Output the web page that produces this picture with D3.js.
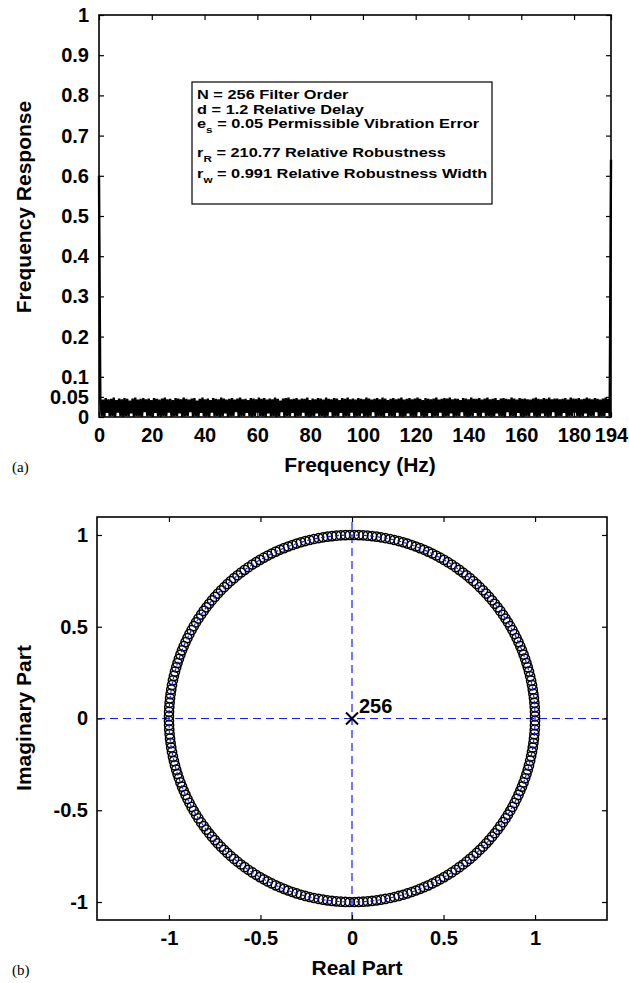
<!DOCTYPE html>
<html><head><meta charset="utf-8">
<script src="https://cdn.jsdelivr.net/npm/d3@7"></script>
<style>
body{margin:0;background:#fff;}
svg text{font-family:"Liberation Sans",Arial,sans-serif;font-weight:bold;}
</style></head>
<body>
<svg id="c" width="629" height="983"></svg>
<script>
// ---------- data: panel (a) ----------
const freqTicks = [0,20,40,60,80,100,120,140,160,180,194];
const respTicks = [0,0.05,0.1,0.2,0.3,0.4,0.5,0.6,0.7,0.8,0.9,1];
const respTickLabels = ["0","0.05","0.1","0.2","0.3","0.4","0.5","0.6","0.7","0.8","0.9","1"];
const edgeStart = [0, 0.6];     // [freq, response] at left edge
const edgeEnd = [194, 0.64];    // [freq, response] at right edge
const ripplePeaks = [
0.046,0.043,0.047,0.044,0.045,0.048,0.042,0.046,0.044,0.047,
0.045,0.041,0.046,0.048,0.043,0.045,0.047,0.044,0.046,0.042,
0.047,0.045,0.043,0.046,0.048,0.044,0.045,0.042,0.047,0.046,
0.044,0.048,0.045,0.043,0.046,0.047,0.041,0.045,0.048,0.044,
0.046,0.042,0.047,0.045,0.044,0.048,0.046,0.043,0.045,0.047,
0.043,0.046,0.048,0.044,0.045,0.042,0.047,0.046,0.044,0.048,
0.045,0.047,0.043,0.046,0.044,0.048,0.045,0.041,0.046,0.047,
0.048,0.044,0.045,0.047,0.043,0.046,0.045,0.048,0.042,0.046,
0.044,0.047,0.046,0.043,0.048,0.045,0.044,0.047,0.046,0.042,
0.047,0.045,0.048,0.044,0.046,0.043,0.047,0.045,0.044,0.048,
0.046,0.043,0.045,0.047,0.044,0.048,0.046,0.042,0.045,0.047,
0.044,0.046,0.048,0.043,0.045,0.047,0.044,0.046,0.048,0.045,
0.042,0.047,0.045,0.044,0.046,0.048,0.043,0.045,0.047,0.046,
0.048,0.044,0.046,0.045,0.042,0.047,0.046,0.044,0.048,0.045,
0.045,0.047,0.043,0.046,0.048,0.044,0.045,0.047,0.042,0.046,
0.047,0.045,0.044,0.048,0.046,0.043,0.047,0.045,0.046,0.044,
0.043,0.046,0.048,0.045,0.044,0.047,0.045,0.048,0.044,0.046,
0.046,0.044,0.045,0.047,0.043,0.048,0.046,0.045,0.047,0.044,
0.045,0.048,0.046,0.044,0.047,0.045,0.043,0.046,0.048,0.045];
const rippleDips = [
0.002,0.001,0.010,0.002,0.003,0.001,0.011,0.002,0.001,0.003,
0.002,0.009,0.001,0.003,0.002,0.001,0.012,0.002,0.003,0.001,
0.010,0.002,0.001,0.003,0.002,0.011,0.001,0.002,0.003,0.009,
0.001,0.002,0.003,0.012,0.001,0.002,0.001,0.010,0.003,0.002,
0.001,0.011,0.002,0.003,0.001,0.002,0.009,0.001,0.002,0.003,
0.012,0.001,0.002,0.003,0.010,0.002,0.001,0.002,0.011,0.003,
0.002,0.001,0.009,0.002,0.003,0.001,0.002,0.012,0.001,0.003,
0.002,0.010,0.001,0.002,0.003,0.011,0.002,0.001,0.003,0.002,
0.009,0.002,0.003,0.001,0.002,0.012,0.001,0.003,0.002,0.010,
0.001,0.003,0.002,0.011,0.001,0.002,0.003,0.009,0.002,0.001,
0.003,0.012,0.001,0.002,0.002,0.001,0.010,0.003,0.002,0.001,
0.011,0.002,0.001,0.003,0.009,0.002,0.001,0.002,0.012,0.003,
0.001,0.002,0.010,0.001,0.003,0.002,0.011,0.001,0.002,0.003,
0.009,0.001,0.002,0.003,0.012,0.002,0.001,0.003,0.002,0.010,
0.002,0.001,0.011,0.002,0.003,0.001,0.002,0.009,0.003,0.002,
0.001,0.012,0.002,0.003,0.001,0.010,0.002,0.001,0.003,0.002,
0.011,0.002,0.001,0.002,0.009,0.003,0.001,0.002,0.012,0.001,
0.002,0.003,0.010,0.001,0.002,0.003,0.011,0.002,0.001,0.002,
0.009,0.001,0.003,0.002,0.012,0.001,0.002,0.003,0.010,0.002];
const rippleRange = [0.5, 193.5];
const legendLines = [
  {main:"N", sub:"", rest:" = 256 Filter Order"},
  {main:"d", sub:"", rest:" = 1.2 Relative Delay"},
  {main:"e", sub:"s", rest:" = 0.05 Permissible Vibration Error"},
  {main:"r", sub:"R", rest:" = 210.77 Relative Robustness"},
  {main:"r", sub:"w", rest:" = 0.991 Relative Robustness Width"}
];

// ---------- data: panel (b) ----------
const reTicks = [-1,-0.5,0,0.5,1];
const imTicks = [-1,-0.5,0,0.5,1];
// angles (degrees) of the zeros in the upper half plane; lower half are conjugates
const zeroAnglesDeg = [
0.7,2.1,3.5,4.9,6.3,7.7,9.1,10.5,11.9,13.3,
14.8,16.2,17.6,19.0,20.4,21.8,23.2,24.6,26.0,27.4,
28.8,30.2,31.6,33.0,34.4,35.9,37.3,38.7,40.1,41.5,
42.9,44.3,45.7,47.1,48.5,49.9,51.3,52.7,54.1,55.5,
57.0,58.4,59.8,61.2,62.6,64.0,65.4,66.8,68.2,69.6,
71.0,72.4,73.8,75.2,76.6,78.0,79.5,80.9,82.3,83.7,
85.1,86.5,87.9,89.3,90.7,92.1,93.5,94.9,96.3,97.7,
99.1,100.5,102.0,103.4,104.8,106.2,107.6,109.0,110.4,111.8,
113.2,114.6,116.0,117.4,118.8,120.2,121.6,123.0,124.5,125.9,
127.3,128.7,130.1,131.5,132.9,134.3,135.7,137.1,138.5,139.9,
141.3,142.7,144.1,145.5,147.0,148.4,149.8,151.2,152.6,154.0,
155.4,156.8,158.2,159.6,161.0,162.4,163.8,165.2,166.6,168.0,
169.5,170.9,172.3,173.7,175.1,176.5,177.9,179.3];
const zeroRadius = 1.0;
const poles = [{re:0, im:0, label:"256"}];

// ---------- drawing ----------
const svg = d3.select("#c");
const FS = 20;   // tick label size
const LS = 21;   // axis label size
const fmt = d => String(d);

// ===== Panel (a) =====
const xA = d3.scaleLinear().domain([0,194]).range([99,611]);
const yA = d3.scaleLinear().domain([0,1]).range([417,15]);
const gA = svg.append("g");

const rippleFreqs = d3.range(ripplePeaks.length*2).map(i =>
  rippleRange[0] + (rippleRange[1]-rippleRange[0]) * i/(ripplePeaks.length*2-1));
const resp = [edgeStart];
ripplePeaks.forEach((p,i)=>{
  resp.push([rippleFreqs[2*i], p]);
  resp.push([rippleFreqs[2*i+1], rippleDips[i]]);
});
resp.push(edgeEnd);
gA.append("path").datum(resp)
  .attr("d", d3.line().x(d=>xA(d[0])).y(d=>yA(d[1])))
  .attr("fill","none").attr("stroke","#000").attr("stroke-width",2.4).attr("stroke-linejoin","bevel");

// axes
gA.append("g").attr("transform","translate(0,417)")
  .call(d3.axisBottom(xA).tickValues(freqTicks).tickFormat(fmt).tickSize(-5).tickPadding(11));
gA.append("g").attr("transform","translate(0,15)").call(d3.axisTop(xA).tickValues(freqTicks).tickSize(-5).tickFormat(""));
gA.append("g").attr("transform","translate(99,0)")
  .call(d3.axisLeft(yA).tickValues(respTicks).tickFormat((d,i)=>respTickLabels[i]).tickSize(-5).tickPadding(10));
gA.append("g").attr("transform","translate(611,0)").call(d3.axisRight(yA).tickValues(respTicks).tickSize(-5).tickFormat(""));
gA.selectAll(".domain").remove();
gA.append("rect").attr("x",99).attr("y",15).attr("width",512).attr("height",402)
  .attr("fill","none").attr("stroke","#000").attr("stroke-width",1.6);

// legend box
const lg = gA.append("g");
lg.append("rect").attr("x",192).attr("y",82).attr("width",300).attr("height",122)
  .attr("fill","#fff").attr("stroke","#000").attr("stroke-width",1.2);
const lgY = [99,113.5,128,157,178];
legendLines.forEach((l,i)=>{
  const g = lg.append("g").attr("transform",`translate(197,${lgY[i]}) scale(1.33,1)`);
  const t = g.append("text").attr("x",0).attr("y",0).attr("font-size",12.3);
  t.append("tspan").text(l.main);
  if(l.sub){
    t.append("tspan").attr("dy",5).attr("font-size",8.8).text(l.sub);
    t.append("tspan").attr("dy",-5).text(l.rest);
  } else {
    t.append("tspan").text(l.rest);
  }
});

// labels
svg.append("text").attr("transform","translate(31,207) rotate(-90)").attr("text-anchor","middle")
  .attr("font-size",LS).text("Frequency Response");
svg.append("text").attr("x",360).attr("y",472).attr("text-anchor","middle").attr("font-size",LS).text("Frequency (Hz)");
svg.append("text").attr("x",12).attr("y",472).attr("font-size",15)
  .style("font-family","'Liberation Serif','Times New Roman',serif").style("font-weight","normal").text("(a)");

// ===== Panel (b) =====
const xB = d3.scaleLinear().domain([-1.393,1.393]).range([97,607]);
const yB = d3.scaleLinear().domain([-1.098,1.098]).range([920,517]);
const gB = svg.append("g");

const blue = "#1a1aff";
gB.append("line").attr("x1",xB.range()[0]).attr("x2",xB.range()[1]).attr("y1",yB(0)).attr("y2",yB(0))
  .attr("stroke",blue).attr("stroke-width",1.2).attr("stroke-dasharray","8,5");
gB.append("line").attr("x1",xB(0)).attr("x2",xB(0)).attr("y1",yB.range()[0]).attr("y2",yB.range()[1])
  .attr("stroke",blue).attr("stroke-width",1.2).attr("stroke-dasharray","8,5");

// zeros
const zeros = [];
zeroAnglesDeg.forEach(a=>{
  const r = a*Math.PI/180;
  zeros.push({re:zeroRadius*Math.cos(r), im:zeroRadius*Math.sin(r)});
  zeros.push({re:zeroRadius*Math.cos(r), im:-zeroRadius*Math.sin(r)});
});
gB.selectAll("circle.z").data(zeros).join("circle").attr("class","z")
  .attr("cx",d=>xB(d.re)).attr("cy",d=>yB(d.im)).attr("r",4.6)
  .attr("fill","none").attr("stroke","#000").attr("stroke-width",1.5);

// unit circle dashed (drawn over markers)
const circ = d3.range(0,361,2).map(a=>[Math.cos(a*Math.PI/180),Math.sin(a*Math.PI/180)]);
gB.append("path").datum(circ).attr("d",d3.line().x(d=>xB(d[0])).y(d=>yB(d[1])))
  .attr("fill","none").attr("stroke",blue).attr("stroke-width",1.2).attr("stroke-dasharray","4,3");

// pole(s)
poles.forEach(p=>{
  const cx = xB(p.re), cy = yB(p.im), s=6;
  gB.append("path").attr("d",`M${cx-s},${cy-s}L${cx+s},${cy+s}M${cx-s},${cy+s}L${cx+s},${cy-s}`)
    .attr("stroke","#000").attr("stroke-width",2);
  gB.append("text").attr("x",cx+7).attr("y",cy-6).attr("font-size",FS).text(p.label);
});

// axes
gB.append("g").attr("transform","translate(0,920)")
  .call(d3.axisBottom(xB).tickValues(reTicks).tickFormat(fmt).tickSize(-5).tickPadding(11));
gB.append("g").attr("transform","translate(0,517)")
  .call(d3.axisTop(xB).tickValues(reTicks).tickSize(-5).tickFormat(""));
gB.append("g").attr("transform","translate(97,0)")
  .call(d3.axisLeft(yB).tickValues(imTicks).tickFormat(fmt).tickSize(-5).tickPadding(9));
gB.append("g").attr("transform","translate(607,0)")
  .call(d3.axisRight(yB).tickValues(imTicks).tickSize(-5).tickFormat(""));
gB.selectAll(".domain").remove();
gB.append("rect").attr("x",97).attr("y",517).attr("width",510).attr("height",403)
  .attr("fill","none").attr("stroke","#000").attr("stroke-width",1.6);

svg.append("text").attr("transform","translate(31,718) rotate(-90)").attr("text-anchor","middle")
  .attr("font-size",LS).text("Imaginary Part");
svg.append("text").attr("x",357).attr("y",975).attr("text-anchor","middle").attr("font-size",LS).text("Real Part");
svg.append("text").attr("x",12).attr("y",975).attr("font-size",15)
  .style("font-family","'Liberation Serif','Times New Roman',serif").style("font-weight","normal").text("(b)");

// tick styling
svg.selectAll(".tick text").attr("font-size",FS).attr("fill","#000")
  .style("font-family","'Liberation Sans',Arial,sans-serif").style("font-weight","bold");
svg.selectAll(".tick line").attr("stroke","#000").attr("stroke-width",1.2);
</script>
</body></html>
